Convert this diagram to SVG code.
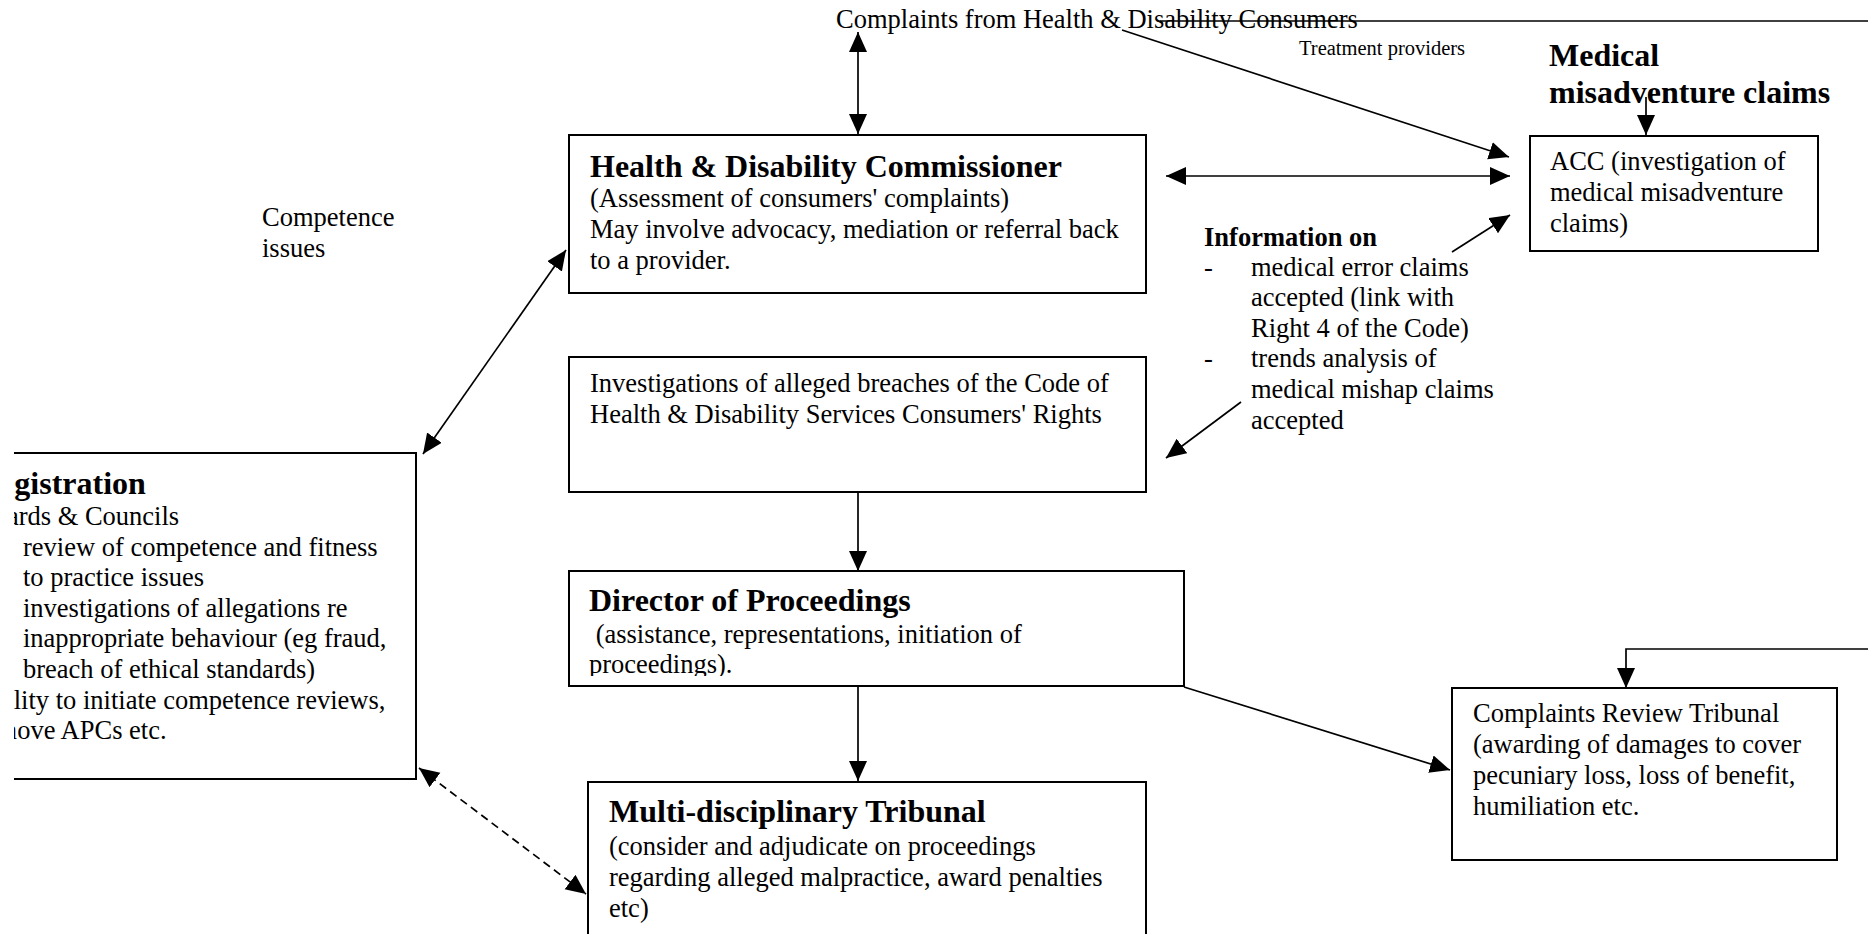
<svg xmlns="http://www.w3.org/2000/svg" width="1868" height="934" viewBox="0 0 1868 934">
  <defs>
    <style>
      .box { fill: #fff; stroke: #000; stroke-width: 2; }
      .t { font-family: "Liberation Serif", "Times New Roman", serif; font-size: 26.5px; fill: #000; }
      .b { font-family: "Liberation Serif", "Times New Roman", serif; font-weight: bold; fill: #000; }
      .h { font-size: 32px; }
      .bs { font-size: 26.5px; }
      .sm { font-size: 20.5px; }
      .ln { fill: none; stroke: #000; stroke-width: 1.7; }
      .arr { marker-end: url(#head); }
      .arr2 { marker-start: url(#head); marker-end: url(#head); }
      .dash { stroke-dasharray: 8 5; }
    </style>
    <marker id="head" markerUnits="userSpaceOnUse" markerWidth="21" markerHeight="19" refX="20" refY="9" orient="auto-start-reverse" viewBox="0 0 21 19">
      <path d="M0,0 L20,9 L0,18 z" fill="#000"/>
    </marker>
    <clipPath id="leftEdge"><rect x="14" y="0" width="1854" height="934"/></clipPath>
    <clipPath id="dirClip"><rect x="560" y="560" width="640" height="116"/></clipPath>
  </defs>

  <rect x="0" y="0" width="1868" height="934" fill="#fff"/>

  <!-- Free-standing labels -->
  <g id="complaints">
    <text class="t" x="836" y="28">Complaints from Health &amp; Disability Consumers</text>
  </g>
  <g id="treatment">
    <text class="t sm" x="1299" y="55">Treatment providers</text>
  </g>
  <g id="medical">
    <text class="b h" x="1549" y="66">Medical</text>
    <text class="b h" x="1549" y="103">misadventure claims</text>
  </g>
  <g id="competence">
    <text class="t" x="262" y="226">Competence</text>
    <text class="t" x="262" y="257">issues</text>
  </g>
  <g id="information">
    <text class="b bs" x="1204" y="246">Information on</text>
    <text class="t" x="1204" y="276">-</text>
    <text class="t" x="1251" y="276">medical error claims</text>
    <text class="t" x="1251" y="306">accepted (link with</text>
    <text class="t" x="1251" y="337">Right 4 of the Code)</text>
    <text class="t" x="1204" y="367">-</text>
    <text class="t" x="1251" y="367">trends analysis of</text>
    <text class="t" x="1251" y="398">medical mishap claims</text>
    <text class="t" x="1251" y="429">accepted</text>
  </g>

  <!-- Nodes -->
  <g id="hdc">
    <rect class="box" x="569" y="135" width="577" height="158"/>
    <text class="b h" x="590" y="177">Health &amp; Disability Commissioner</text>
    <text class="t" x="590" y="207">(Assessment of consumers' complaints)</text>
    <text class="t" x="590" y="238">May involve advocacy, mediation or referral back</text>
    <text class="t" x="590" y="269">to a provider.</text>
  </g>

  <g id="investigations">
    <rect class="box" x="569" y="357" width="577" height="135"/>
    <text class="t" x="590" y="392">Investigations of alleged breaches of the Code of</text>
    <text class="t" x="590" y="423">Health &amp; Disability Services Consumers' Rights</text>
  </g>

  <g id="director">
    <rect class="box" x="569" y="571" width="615" height="115"/>
    <g clip-path="url(#dirClip)">
      <text class="b h" x="589" y="611">Director of Proceedings</text>
      <text class="t" x="589" y="643" xml:space="preserve"> (assistance, representations, initiation of</text>
      <text class="t" x="589" y="673">proceedings).</text>
    </g>
  </g>

  <g id="tribunal">
    <rect class="box" x="588" y="782" width="558" height="170"/>
    <text class="b h" x="609" y="822">Multi-disciplinary Tribunal</text>
    <text class="t" x="609" y="855">(consider and adjudicate on proceedings</text>
    <text class="t" x="609" y="886">regarding alleged malpractice, award penalties</text>
    <text class="t" x="609" y="917">etc)</text>
  </g>

  <g id="acc">
    <rect class="box" x="1530" y="136" width="288" height="115"/>
    <text class="t" x="1550" y="170">ACC (investigation of</text>
    <text class="t" x="1550" y="201">medical misadventure</text>
    <text class="t" x="1550" y="232">claims)</text>
  </g>

  <g id="crt">
    <rect class="box" x="1452" y="688" width="385" height="172"/>
    <text class="t" x="1473" y="722">Complaints Review Tribunal</text>
    <text class="t" x="1473" y="753">(awarding of damages to cover</text>
    <text class="t" x="1473" y="784">pecuniary loss, loss of benefit,</text>
    <text class="t" x="1473" y="815">humiliation etc.</text>
  </g>

  <g id="registration" clip-path="url(#leftEdge)">
    <rect class="box" x="-40" y="453" width="456" height="326"/>
    <text class="b h" x="-23" y="494">Registration</text>
    <text class="t" x="-24" y="525">Boards &amp; Councils</text>
    <text class="t" x="23" y="556">review of competence and fitness</text>
    <text class="t" x="23" y="586">to practice issues</text>
    <text class="t" x="23" y="617">investigations of allegations re</text>
    <text class="t" x="23" y="647">inappropriate behaviour (eg fraud,</text>
    <text class="t" x="23" y="678">breach of ethical standards)</text>
    <text class="t" x="-26" y="709">Ability to initiate competence reviews,</text>
    <text class="t" x="-24" y="739">remove APCs etc.</text>
  </g>

  <!-- Connectors -->
  <g id="connectors">
    <line class="ln arr2" x1="858" y1="32" x2="858" y2="134"/>
    <line class="ln" x1="1160" y1="21" x2="1868" y2="21" stroke-width="2.2"/>
    <line class="ln arr" x1="1122" y1="30" x2="1509" y2="157"/>
    <line class="ln arr" x1="1646" y1="97" x2="1646" y2="135"/>
    <line class="ln arr2" x1="1166" y1="176" x2="1510" y2="176"/>
    <line class="ln arr" x1="1452" y1="252" x2="1510" y2="215"/>
    <line class="ln arr" x1="1241" y1="402" x2="1166" y2="458"/>
    <line class="ln arr2" x1="566" y1="250" x2="423" y2="454"/>
    <line class="ln arr" x1="858" y1="492" x2="858" y2="571"/>
    <line class="ln arr" x1="858" y1="686" x2="858" y2="781"/>
    <line class="ln arr" x1="1184" y1="687" x2="1450" y2="770"/>
    <polyline class="ln arr" points="1868,649 1626,649 1626,688"/>
    <line class="ln arr2 dash" x1="419" y1="768" x2="586" y2="894"/>
  </g>
</svg>
